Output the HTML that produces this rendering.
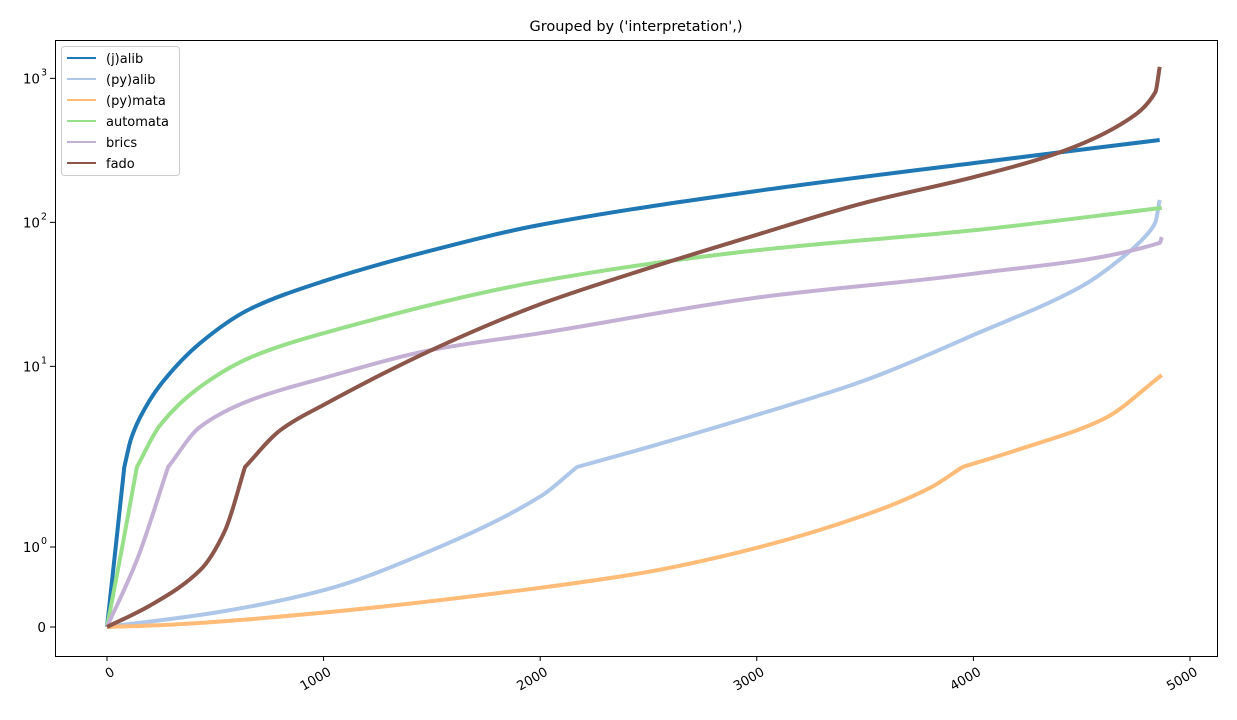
<!DOCTYPE html>
<html><head><meta charset="utf-8"><style>
body{margin:0;background:#fff;font-family:"Liberation Sans","DejaVu Sans",sans-serif;}
svg text{font-family:"DejaVu Sans","Liberation Sans",sans-serif;}
</style></head><body>
<svg id="c" width="1237" height="715" xmlns="http://www.w3.org/2000/svg"></svg>
<script>
const seriesNames=["(j)alib","(py)alib","(py)mata","automata","brics","fado"];
const seriesColors=["#1f77b4","#aec7e8","#ffbb78","#98df8a","#c5b0d5","#8c564b"];
const xJalib=[0,40,80,110,152,245,430,660,1000,1500,2000,3000,4000,4860];
const yJalib=[0,1,2,3.1,4.4,7.4,14.5,25,39,64,96,165,258,373];
const xPyalib=[0,500,1000,1500,2000,2170,2500,3000,3500,4000,4500,4700,4800,4840,4860];
const yPyalib=[0,0.18,0.46,0.96,1.63,2,2.75,4.6,8,16.5,36,59,82,100,143];
const xPymata=[0,300,1000,2000,2500,3000,3500,3800,3950,4200,4600,4870];
const yPymata=[0,0.03,0.18,0.49,0.69,0.99,1.4,1.74,2,2.62,4.3,8.7];
const xAutomata=[0,70,138,245,430,660,1000,2000,3000,4000,4870];
const yAutomata=[0,1,2,3.9,7.2,11.5,17,39,64,88,126];
const xBrics=[0,140,282,430,660,1000,1500,2000,3000,4000,4860,4870];
const yBrics=[0,0.85,2,3.8,5.8,8.3,13,17,30,44,72,79];
const xFado=[0,200,430,544,637,800,1000,1500,2000,2500,3000,3500,4000,4400,4700,4840,4860];
const yFado=[0,0.27,0.71,1.2,2,3.6,5.4,13,27,48,82,137,206,307,500,800,1200];
const xTicks=[0,1000,2000,3000,4000,5000];
const yTickVals=[0,1,10,100,1000];
const yTickLabels=["0","10","10","10","10"];
const yTickExp=["","0","1","2","3"];
const allX=[xJalib,xPyalib,xPymata,xAutomata,xBrics,xFado];
const allY=[yJalib,yPyalib,yPymata,yAutomata,yBrics,yFado];

const L=55,R=1217,T=40,B=656;
function sx(v){return 107+v*0.2166;}
function sy(v){return v<=2?627-80*v:467-144*Math.log10(v/2);}
const svg=document.getElementById('c');
const NS="http://www.w3.org/2000/svg";
function mk(tag,at,parent){const e=document.createElementNS(NS,tag);for(const k in at)e.setAttribute(k,at[k]);(parent||svg).appendChild(e);return e;}

function monoPath(P){
  const n=P.length; if(n<2)return '';
  if(n===2)return ` L${P[1][0]},${P[1][1]}`;
  const d=[],m=[];
  for(let i=0;i<n-1;i++)d.push((P[i+1][1]-P[i][1])/(P[i+1][0]-P[i][0]));
  m[0]=d[0];m[n-1]=d[n-2];
  for(let i=1;i<n-1;i++)m[i]=(d[i-1]*d[i]<=0)?0:(2/(1/d[i-1]+1/d[i]));
  let s='';
  for(let i=0;i<n-1;i++){
    const h=P[i+1][0]-P[i][0];
    s+=` C${(P[i][0]+h/3).toFixed(1)},${(P[i][1]+m[i]*h/3).toFixed(1)} ${(P[i+1][0]-h/3).toFixed(1)},${(P[i+1][1]-m[i+1]*h/3).toFixed(1)} ${P[i+1][0].toFixed(1)},${P[i+1][1].toFixed(1)}`;
  }
  return s;
}

const title=mk('text',{x:636,y:31,'text-anchor':'middle','font-size':14.5});
title.textContent="Grouped by ('interpretation',)";



const g=mk('g',{});


for(let s=0;s<6;s++){
  const xs=allX[s],ys=allY[s];
  const P=xs.map((x,i)=>[sx(x),sy(ys[i])]);
  const k=ys.indexOf(2);
  let d=`M${P[0][0].toFixed(1)},${P[0][1].toFixed(1)}`;
  if(k>0){d+=monoPath(P.slice(0,k+1))+monoPath(P.slice(k));}
  else d+=monoPath(P);
  const p=mk('path',{d:d,fill:'none',stroke:seriesColors[s],'stroke-width':4,'stroke-linejoin':'round'},g);
  
  
}
const frame=mk('rect',{x:L+0.5,y:T+0.5,width:R-L,height:B-T,fill:'none',stroke:'#000','stroke-width':1});



xTicks.forEach(t=>{
  const x=sx(t);
  mk('line',{x1:x,y1:B,x2:x,y2:B+5,stroke:'#000'});
  const tx=mk('text',{x:x+6,y:B+19,'text-anchor':'end','font-size':13,transform:`rotate(-30 ${x+6} ${B+14})`});
  tx.textContent=t;
  
  
});
yTickVals.forEach((v,i)=>{
  const y=sy(v);
  mk('line',{x1:L-5,y1:y,x2:L,y2:y,stroke:'#000'});
  const tx=mk('text',{x:yTickExp[i]?40:46,y:y+5,'text-anchor':'end','font-size':13.5});
  tx.textContent=yTickLabels[i];
  
  
  if(yTickExp[i]){const e=mk('text',{x:41,y:y-3,'font-size':9.5});e.textContent=yTickExp[i];}
});

const lg=mk('g',{});


mk('rect',{x:61.5,y:46.5,width:118,height:129,rx:3,fill:'#fff',stroke:'#ccc'},lg);
seriesNames.forEach((n,i)=>{
  const y=58+i*21;
  mk('line',{x1:67,y1:y,x2:96,y2:y,stroke:seriesColors[i],'stroke-width':2},lg);
  const t=mk('text',{x:106,y:y+5,'font-size':13},lg);
  t.textContent=n;
  
  
});
</script>
</body></html>
